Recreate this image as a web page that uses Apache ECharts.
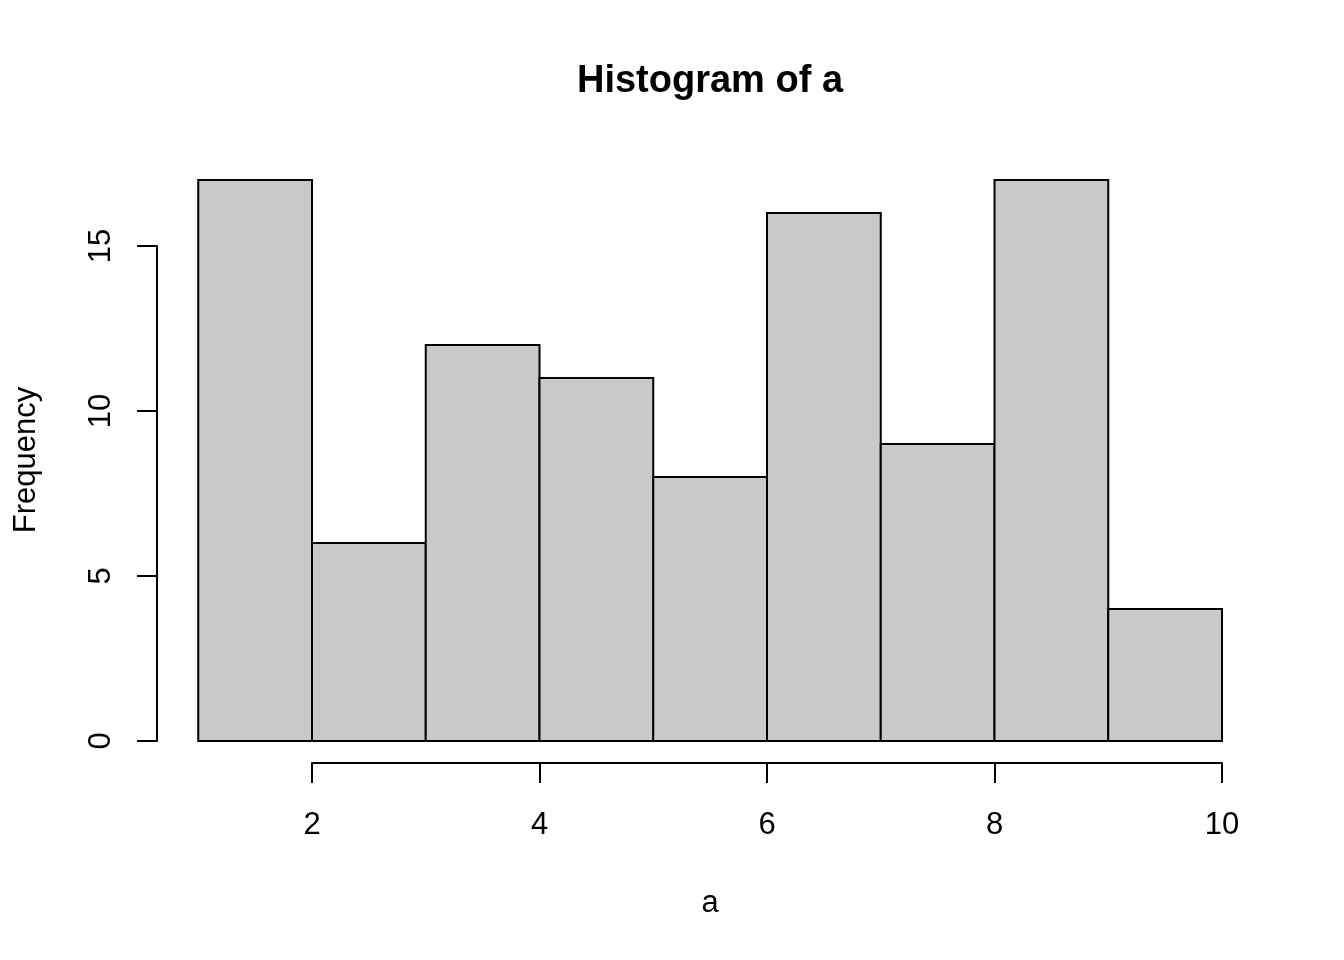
<!DOCTYPE html>
<html>
<head>
<meta charset="utf-8">
<script src="https://cdn.jsdelivr.net/npm/echarts@6/dist/echarts.min.js"></script>
<style>html,body{margin:0;padding:0;background:#fff}#c{width:1344px;height:960px}</style>
</head>
<body>
<div id="c"></div>
<script>
const binStarts = [1, 2, 3, 4, 5, 6, 7, 8, 9];
const binEnds   = [2, 3, 4, 5, 6, 7, 8, 9, 10];
const counts    = [17, 6, 12, 11, 8, 16, 9, 17, 4];
const xTicks = [2, 4, 6, 8, 10];
const yTicks = [0, 5, 10, 15];
const titleText = 'Histogram of a';
const xLabel = 'a';
const yLabel = 'Frequency';

const FONT = '"Liberation Sans", Arial, Helvetica, sans-serif';
const data = binStarts.map((s, i) => [s, binEnds[i], counts[i]]);

const chart = echarts.init(document.getElementById('c'), null, {renderer: 'canvas'});
const plotL = 198.25, plotR = 1222, y0 = 741, yTop17 = 180;
chart.setOption({
  animation: false,
  backgroundColor: '#ffffff',
  title: {
    text: titleText, left: 705, top: 58, textAlign: 'center',
    textStyle: {fontFamily: FONT, fontSize: 38, fontWeight: 'bold', color: '#000'}
  },
  grid: [
    {left: plotL, width: plotR - plotL, top: yTop17, height: y0 - yTop17},
    {left: plotL, width: plotR - plotL, top: 246, height: y0 - 246},
    {left: 312, width: plotR - 312, top: yTop17, height: y0 - yTop17}
  ],
  xAxis: [
    {gridIndex: 0, type: 'value', min: 1, max: 10, show: false},
    {gridIndex: 1, type: 'value', min: 1, max: 10, show: false},
    {gridIndex: 2, type: 'value', min: 2, max: 10, interval: 2, position: 'bottom', offset: 22,
     splitLine: {show: false},
     axisLine: {show: true, onZero: false, lineStyle: {color: '#000', width: 2}},
     axisTick: {show: true, length: 20, lineStyle: {color: '#000', width: 2}},
     axisLabel: {show: true, margin: 47, color: '#000', fontSize: 31, fontFamily: FONT,
       formatter: v => xTicks.includes(v) ? String(v) : ''}
    }
  ],
  yAxis: [
    {gridIndex: 0, type: 'value', min: 0, max: 17, show: false},
    {gridIndex: 1, type: 'value', min: 0, max: 15, interval: 5, position: 'left', offset: plotL - 157,
     splitLine: {show: false},
     axisLine: {show: true, onZero: false, lineStyle: {color: '#000', width: 2}},
     axisTick: {show: true, length: 20, lineStyle: {color: '#000', width: 2}},
     axisLabel: {show: true, rotate: 90, margin: 40, color: '#000', fontSize: 31, fontFamily: FONT,
       formatter: v => yTicks.includes(v) ? String(v) : ''}
    },
    {gridIndex: 2, type: 'value', min: 0, max: 17, show: false}
  ],
  graphic: [
    {type: 'text', x: 26, y: 460, rotation: Math.PI / 2,
     style: {text: yLabel, fontFamily: FONT, fontSize: 31, fill: '#000', textAlign: 'center', textVerticalAlign: 'middle'}},
    {type: 'text', x: 710, y: 903,
     style: {text: xLabel, fontFamily: FONT, fontSize: 31, fill: '#000', textAlign: 'center', textVerticalAlign: 'middle'}}
  ],
  series: [{
    type: 'custom',
    xAxisIndex: 0, yAxisIndex: 0,
    data: data,
    renderItem: function (params, api) {
      const a = api.coord([api.value(0), 0]);
      const b = api.coord([api.value(1), api.value(2)]);
      return {
        type: 'rect',
        shape: {x: a[0], y: b[1], width: b[0] - a[0], height: a[1] - b[1]},
        style: {fill: '#C9C9C9', stroke: '#000', lineWidth: 2}
      };
    }
  }]
});
</script>
</body>
</html>
